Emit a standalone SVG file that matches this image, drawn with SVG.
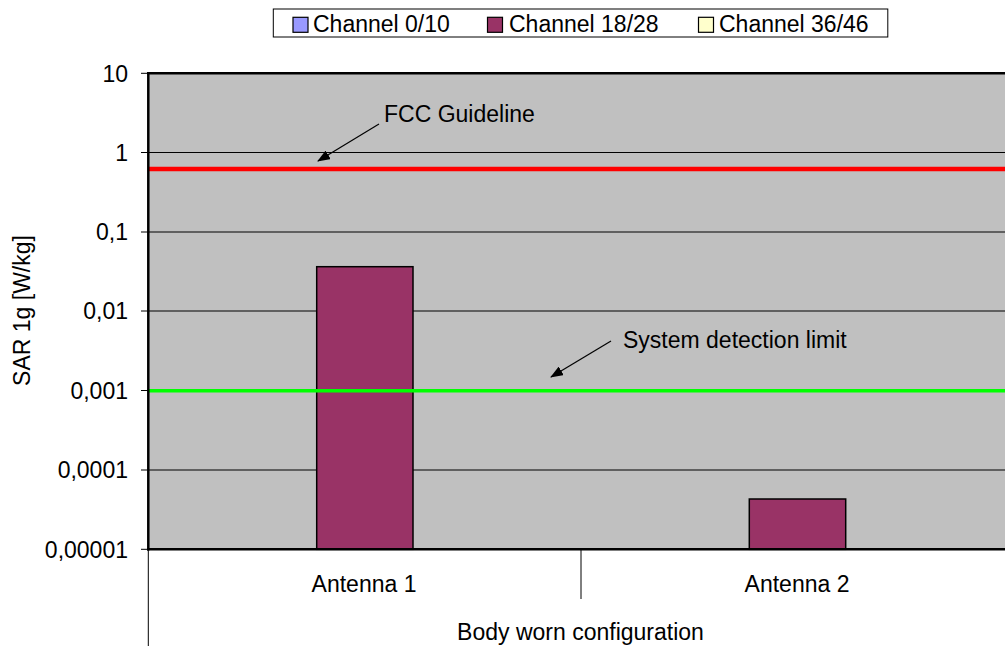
<svg xmlns="http://www.w3.org/2000/svg" width="1005" height="646" viewBox="0 0 1005 646">
<style>
text{font-family:"Liberation Sans",Arial,sans-serif;font-size:23px;fill:#000}
.tick{text-anchor:end}
.grid{stroke:#000;stroke-width:1}
.bar{fill:#993366;stroke:#000;stroke-width:1.5}
.ax{stroke:#000;stroke-width:1;fill:none}
.sw{stroke:#000;stroke-width:1.2}
.arrow{stroke:#000;stroke-width:1.2;marker-end:url(#ah)}
</style>
<defs>
<marker id="ah" viewBox="0 0 13 10" refX="12" refY="5" markerWidth="13" markerHeight="10" orient="auto" markerUnits="userSpaceOnUse">
<path d="M0,0 L13,5 L0,10 z" fill="#000"/>
</marker>
</defs>
<rect width="1005" height="646" fill="#fff"/>
<g id="plot">
<rect x="148" y="73.3" width="870" height="476" fill="#c0c0c0"/>
<line class="grid" x1="148" y1="152.5" x2="1005" y2="152.5"/>
<line class="grid" x1="148" y1="232" x2="1005" y2="232"/>
<line class="grid" x1="148" y1="311" x2="1005" y2="311"/>
<line class="grid" x1="148" y1="390.5" x2="1005" y2="390.5"/>
<line class="grid" x1="148" y1="470" x2="1005" y2="470"/>
</g>
<g id="bars">
<rect class="bar" x="316.7" y="266.7" width="96.3" height="282.6"/>
<rect class="bar" x="749.3" y="499" width="96.4" height="50.3"/>
</g>
<g id="limits">
<line x1="148" y1="169" x2="1005" y2="169" stroke="#ff0000" stroke-width="4.3"/>
<line x1="148" y1="390.7" x2="1005" y2="390.7" stroke="#00ff00" stroke-width="3.5"/>
</g>
<g id="axes">
<line x1="147" y1="73.3" x2="1005" y2="73.3" stroke="#000" stroke-width="2.5"/>
<line x1="148.3" y1="72" x2="148.3" y2="550.5" stroke="#000" stroke-width="2.5"/>
<line x1="147" y1="549.3" x2="1005" y2="549.3" stroke="#000" stroke-width="2.5"/>
<path class="ax" d="M141,73.3H148M141,152.5H148M141,232H148M141,311H148M141,390.5H148M141,470H148M141,549.3H148"/>
<path class="ax" d="M148.3,549V646M581,549V599"/>
<text class="tick" x="128" y="81.5">10</text>
<text class="tick" x="128" y="160.7">1</text>
<text class="tick" x="128" y="240.2">0,1</text>
<text class="tick" x="128" y="319.2">0,01</text>
<text class="tick" x="128" y="398.7">0,001</text>
<text class="tick" x="128" y="478.2">0,0001</text>
<text class="tick" x="128" y="557.5">0,00001</text>
<text x="364" y="592" text-anchor="middle">Antenna 1</text>
<text x="797" y="592" text-anchor="middle">Antenna 2</text>
<text x="580.5" y="640" text-anchor="middle">Body worn configuration</text>
<text transform="translate(30,310.5) rotate(-90)" text-anchor="middle">SAR 1g [W/kg]</text>
</g>
<g id="connectors">
<line class="arrow" x1="379" y1="124" x2="318" y2="161"/>
<line class="arrow" x1="611" y1="341" x2="551" y2="377"/>
</g>
<g id="annotations">
<text x="384" y="122">FCC Guideline</text>
<text x="623" y="348">System detection limit</text>
</g>
<g id="legend">
<rect x="273.3" y="9" width="614.5" height="28" fill="#fff" stroke="#000" stroke-width="1"/>
<rect class="sw" x="293" y="17.3" width="15" height="15" fill="#9999ff"/>
<text x="313" y="32">Channel 0/10</text>
<rect class="sw" x="487.5" y="17.3" width="15" height="15" fill="#993366"/>
<text x="509" y="32">Channel 18/28</text>
<rect class="sw" x="698.5" y="17.3" width="15" height="15" fill="#ffffcc"/>
<text x="719" y="32">Channel 36/46</text>
</g>
</svg>
